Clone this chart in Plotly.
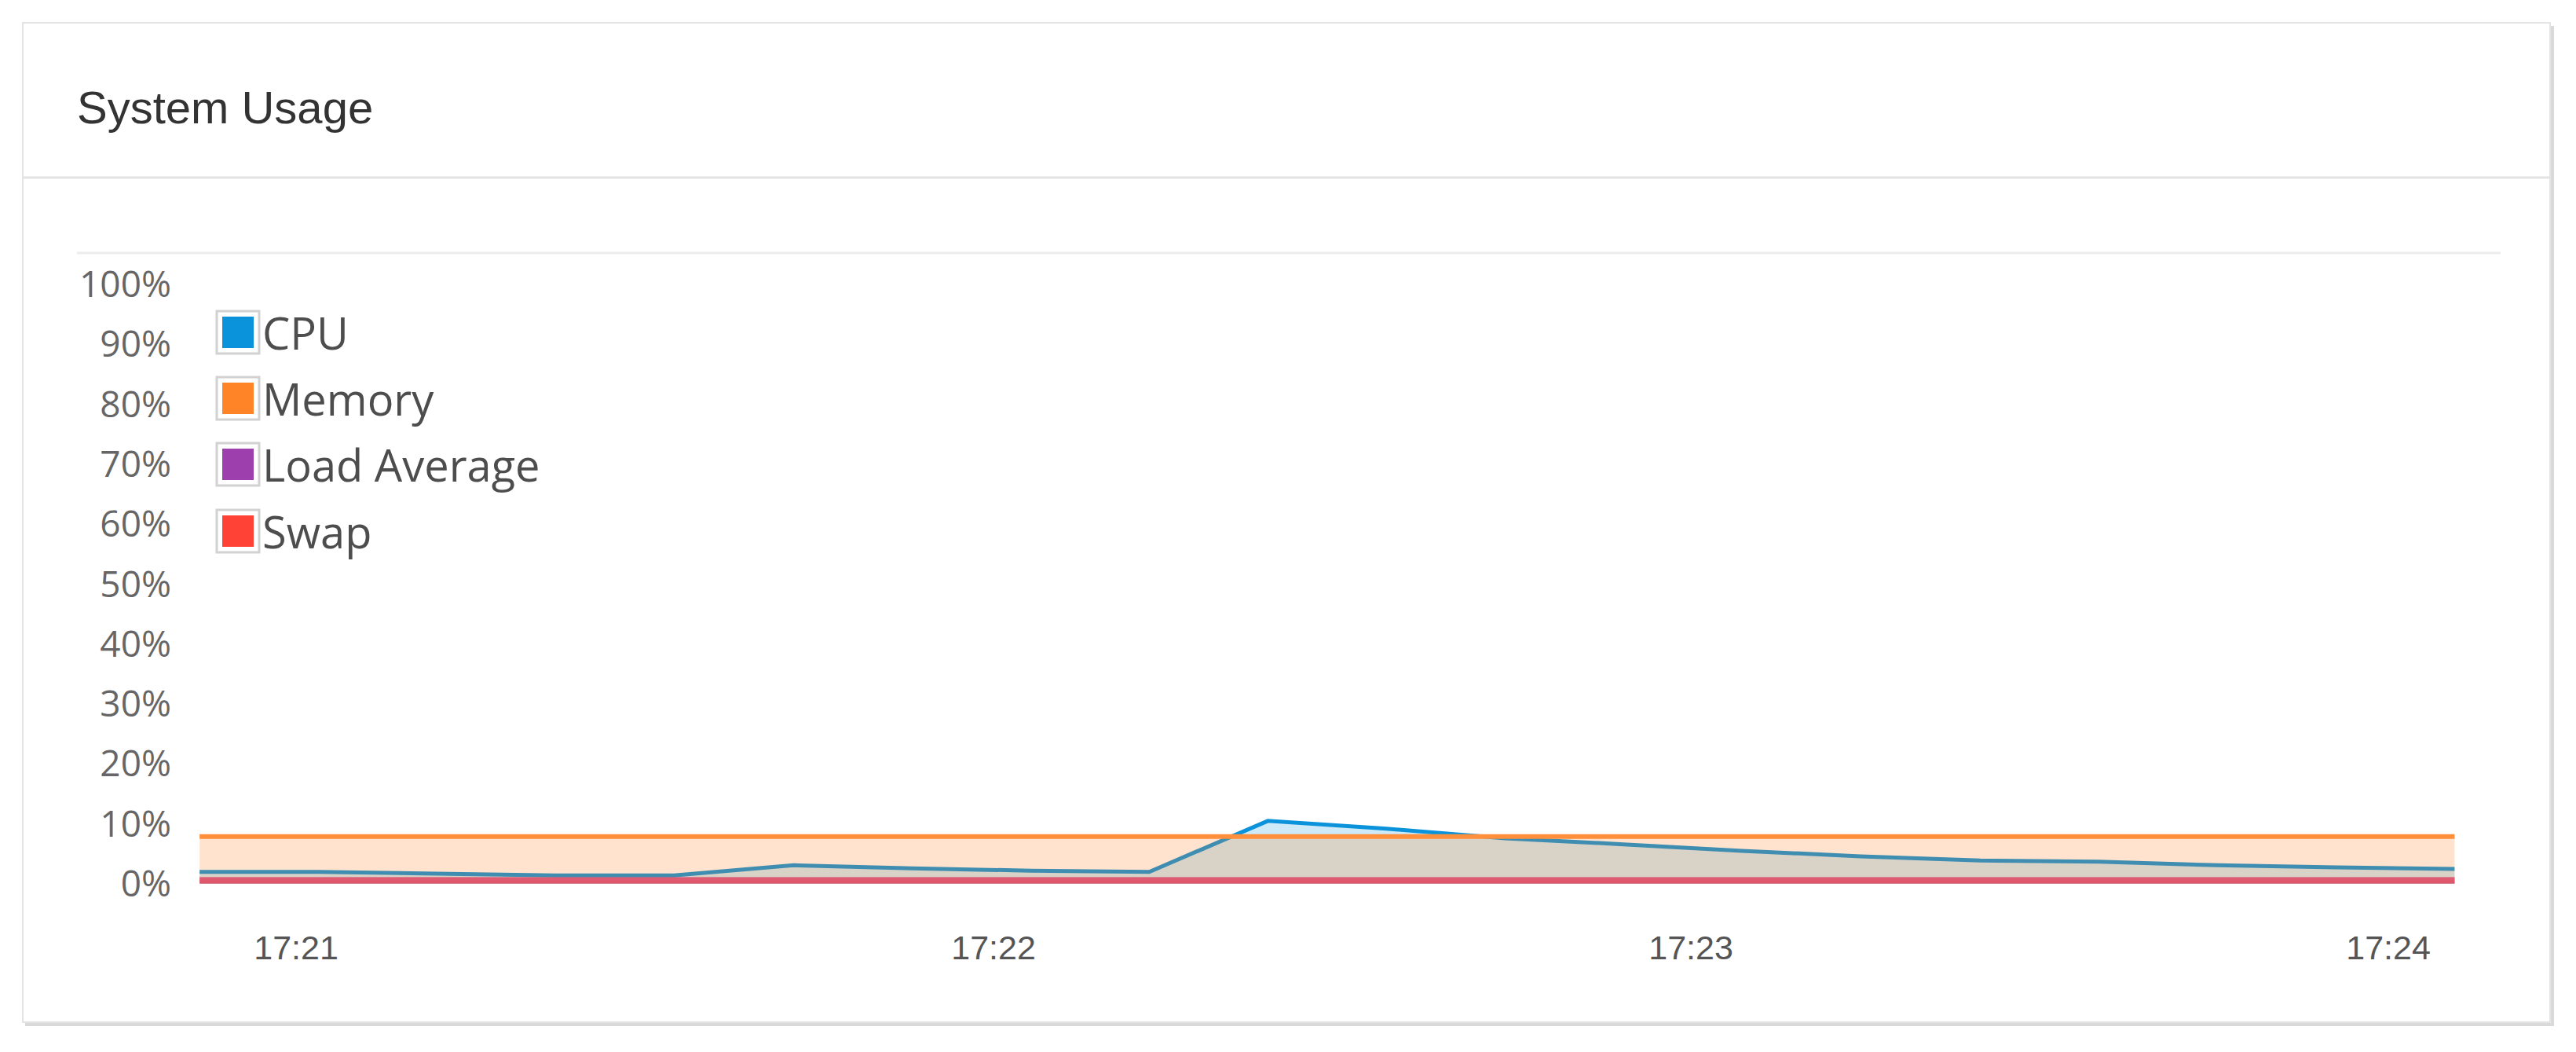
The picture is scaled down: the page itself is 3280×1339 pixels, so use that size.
import plotly.graph_objects as go

# page has an 8px body margin, so the figure is 16px smaller than the window
OFF = 8
W, H = 3280 - 2 * OFF, 1339 - 2 * OFF

# sample times (every ~10 s)
DATE = "2024-01-01"
TIMES = ["17:20:51.7", "17:21:01.9", "17:21:12.1", "17:21:22.3", "17:21:32.5",
         "17:21:42.8", "17:21:53.0", "17:22:03.2", "17:22:13.4", "17:22:23.6",
         "17:22:33.8", "17:22:44.0", "17:22:54.2", "17:23:04.4", "17:23:14.6",
         "17:23:24.9", "17:23:35.1", "17:23:45.3", "17:23:55.5", "17:24:05.7"]

cpu = [2.0, 2.0, 1.7, 1.4, 1.4, 3.1, 2.6, 2.2, 2.0, 10.5,
       9.2, 7.6, 6.6, 5.5, 4.6, 3.9, 3.7, 3.1, 2.75, 2.5]
memory = [7.9, 7.9, 7.9, 7.9, 7.9, 7.9, 7.9, 7.9, 7.9, 7.9,
          7.9, 7.9, 7.9, 7.9, 7.9, 7.9, 7.9, 7.9, 7.9, 7.9]
load_avg = [0.6, 0.6, 0.6, 0.6, 0.6, 0.6, 0.6, 0.6, 0.6, 0.6,
            0.6, 0.6, 0.6, 0.6, 0.6, 0.6, 0.6, 0.6, 0.6, 0.6]
swap = [0.6, 0.6, 0.6, 0.6, 0.6, 0.6, 0.6, 0.6, 0.6, 0.6,
        0.6, 0.6, 0.6, 0.6, 0.6, 0.6, 0.6, 0.6, 0.6, 0.6]

Y_TICKS = [0, 10, 20, 30, 40, 50, 60, 70, 80, 90, 100]
Y_LABELS = ["0%", "10%", "20%", "30%", "40%", "50%", "60%", "70%", "80%", "90%", "100%"]

SERIES = ["CPU", "Memory", "Load Average", "Swap"]
COLORS = {"CPU": "#0a93da", "Memory": "#ff8428", "Load Average": "#9e3fae", "Swap": "#ff4136"}
LINES = {"CPU": "#0a93da", "Memory": "#ff8f3a", "Load Average": "rgba(158,63,174,0.6)",
         "Swap": "rgba(255,65,54,0.55)"}
FILLS = {"CPU": "rgba(10,143,213,0.2)", "Memory": "rgba(255,127,30,0.22)",
         "Load Average": "rgba(158,63,174,0.08)", "Swap": "rgba(255,65,54,0.08)"}

x = [DATE + " " + t for t in TIMES]


def px(v):
    return (v - OFF) / W


def py(v):
    return 1 - (v - OFF) / H


fig = go.Figure()

# CPU under memory (memory fill tints the CPU line); load / swap on top
for name, vals, width in [("CPU", cpu, 5), ("Memory", memory, 6),
                          ("Load Average", load_avg, 8), ("Swap", swap, 8)]:
    fig.add_trace(go.Scatter(
        x=x, y=vals, name=name, mode="lines", fill="tozeroy",
        fillcolor=FILLS[name], line=dict(color=LINES[name], width=width),
        showlegend=False, hoverinfo="x+y+name"))

shapes = [
    # card shadow + card
    dict(type="rect", xref="paper", yref="paper", x0=px(32), x1=px(3252), y0=py(1306), y1=py(33),
         fillcolor="#d9d9d9", line=dict(width=0), layer="below"),
    dict(type="rect", xref="paper", yref="paper", x0=px(29), x1=px(3247), y0=py(1301), y1=py(29),
         fillcolor="white", line=dict(color="#e4e4e4", width=2), layer="below"),
    # header divider
    dict(type="line", xref="paper", yref="paper", x0=px(29), x1=px(3247), y0=py(226), y1=py(226),
         line=dict(color="#e3e3e3", width=3), layer="below"),
    # top rule of the chart
    dict(type="line", xref="paper", yref="paper", x0=px(98), x1=px(3184), y0=py(322), y1=py(322),
         line=dict(color="#ececec", width=3), layer="below"),
]

annotations = [
    dict(text="System Usage", xref="paper", yref="paper", x=px(96), y=py(136),
         xanchor="left", yanchor="middle", showarrow=False,
         font=dict(family="Liberation Sans, Arial, sans-serif", size=58, color="#333333")),
]

# legend boxes, Chart.js style
row_y = [423, 507, 591, 676]
for name, cy in zip(SERIES, row_y):
    shapes.append(dict(type="rect", xref="paper", yref="paper",
                       x0=px(276), x1=px(330), y0=py(cy + 27), y1=py(cy - 27),
                       fillcolor="white", line=dict(color="#d2d2d2", width=3)))
    shapes.append(dict(type="rect", xref="paper", yref="paper",
                       x0=px(283), x1=px(323), y0=py(cy + 20), y1=py(cy - 20),
                       fillcolor=COLORS[name], line=dict(width=0)))
    annotations.append(dict(text=name, xref="paper", yref="paper", x=px(332), y=py(cy),
                            xanchor="left", yanchor="middle", showarrow=False,
                            font=dict(family="Open Sans, Noto Sans, sans-serif", size=56, color="#4d4d4d")))

fig.update_layout(
    width=W, height=H,
    margin=dict(l=0, r=0, t=0, b=0, autoexpand=False),
    paper_bgcolor="white", plot_bgcolor="rgba(0,0,0,0)",
    showlegend=False,
    shapes=shapes, annotations=annotations,
    xaxis=dict(
        domain=[px(253), px(3184)],
        type="date", automargin=False,
        range=[DATE + " 17:20:51.62", DATE + " 17:24:09.66"],
        tick0=DATE + " 17:21:00", dtick=60000, tickformat="%H:%M",
        showgrid=False, zeroline=False, showline=False, ticks="",
        ticklabelstandoff=52,
        tickfont=dict(family="Liberation Sans, Arial, sans-serif", size=43, color="#555555"),
    ),
    yaxis=dict(
        domain=[py(1125), py(323.8)],
        range=[0, 105], automargin=False,
        tickmode="array", tickvals=Y_TICKS, ticktext=Y_LABELS,
        showgrid=False, zeroline=False, showline=False, ticks="",
        ticklabelstandoff=34,
        tickfont=dict(family="Open Sans, Noto Sans, sans-serif", size=46, color="#666666"),
    ),
)

fig.write_html("out.html")
